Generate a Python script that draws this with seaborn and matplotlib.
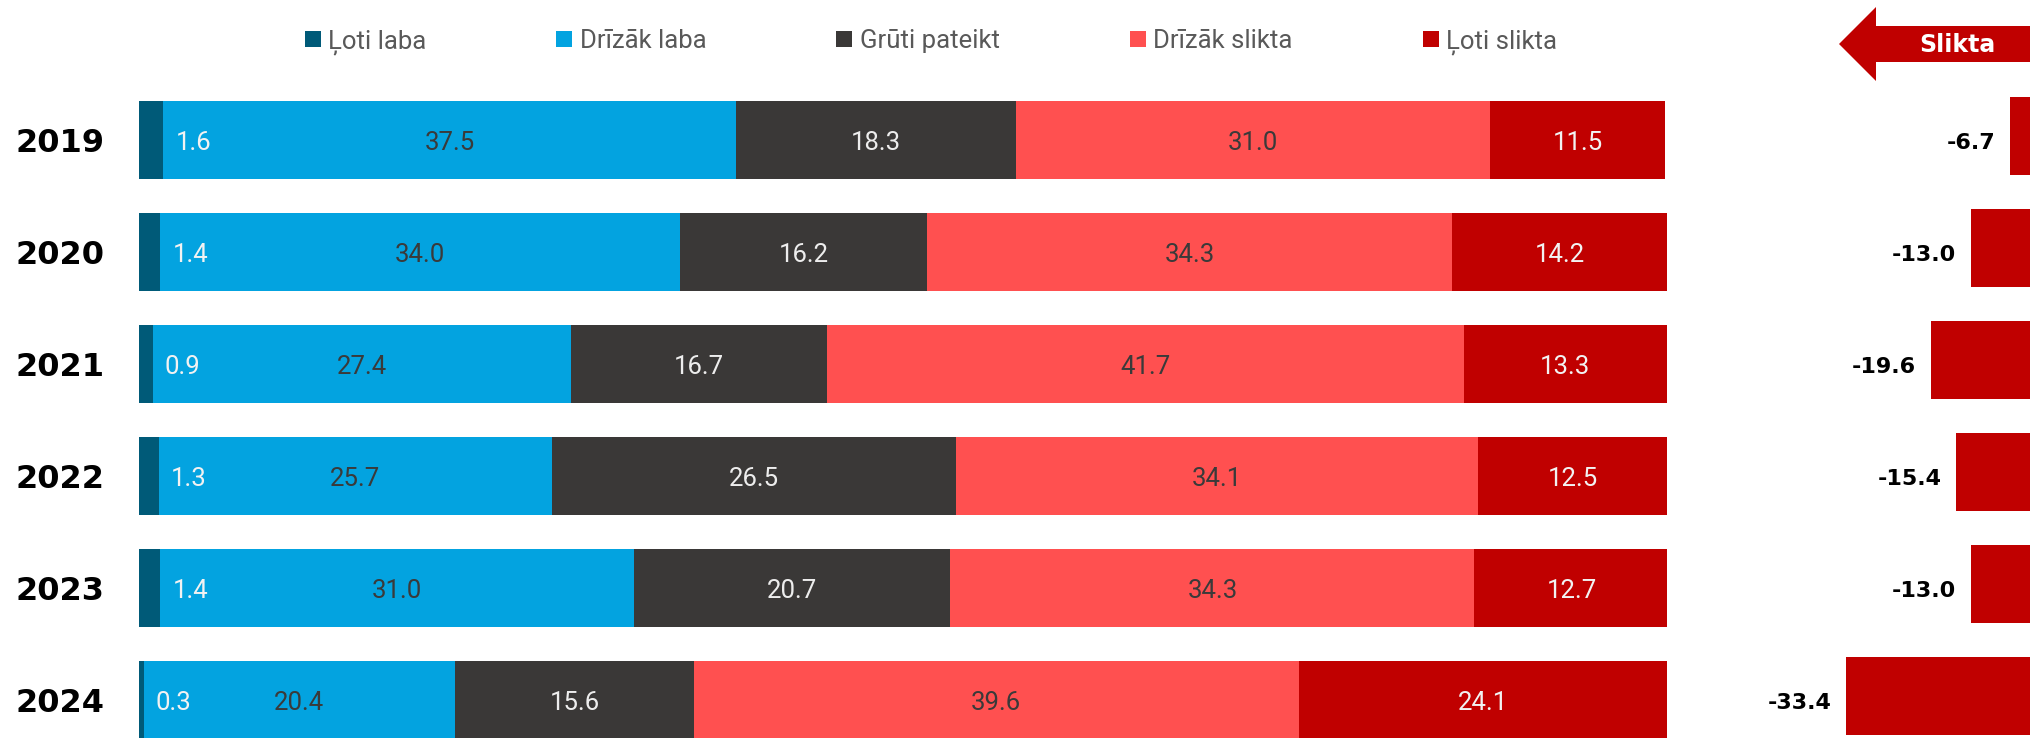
import numpy as np
import pandas as pd
import matplotlib
matplotlib.use('Agg')
import matplotlib.pyplot as plt
import seaborn as sns
from matplotlib.patches import Patch, Polygon

# data
years = ['2019', '2020', '2021', '2022', '2023', '2024']
categories = ['Ļoti laba', 'Drīzāk laba', 'Grūti pateikt', 'Drīzāk slikta', 'Ļoti slikta']
loti_laba = [1.6, 1.4, 0.9, 1.3, 1.4, 0.3]
drizak_laba = [37.5, 34.0, 27.4, 25.7, 31.0, 20.4]
gruti_pateikt = [18.3, 16.2, 16.7, 26.5, 20.7, 15.6]
drizak_slikta = [31.0, 34.3, 41.7, 34.1, 34.3, 39.6]
loti_slikta = [11.5, 14.2, 13.3, 12.5, 12.7, 24.1]
balance = [-6.7, -13.0, -19.6, -15.4, -13.0, -33.4]

colors = ['#005A78', '#03A3E0', '#3A3837', '#FF5050', '#C00000']
label_colors = ['#F2F2F2', '#3A3A3A', '#EDEDED', '#3A3A3A', '#F2F2F2']

sns.set_style('white')
plt.rcParams['font.family'] = ['DejaVu Sans']
thin = ['Roboto', 'DejaVu Sans']

W, H = 2031, 738
fig = plt.figure(figsize=(W / 100, H / 100), dpi=100)

df = pd.DataFrame({'year': years})
series = [loti_laba, drizak_laba, gruti_pateikt, drizak_slikta, loti_slikta]
cum = np.cumsum(np.array(series), axis=0)
for i in range(5):
    df['cum%d' % i] = cum[i]

    # stacked bars
ax = fig.add_axes([139 / W, 0, 1528 / W, 1])
for i in reversed(range(5)):
    sns.barplot(
        data = df, x = 'cum%d' % i, y = 'year',
        orient = 'h', color = colors[i], saturation = 1,
        width = 0.7, linewidth = 0, ax = ax
        )
ax.set_xlim(0, 100)
ax.set_ylim(5 + 38 / 112, -140 / 112)
ax.set_xlabel('')
ax.set_ylabel('')
ax.set_xticks([])
ax.tick_params(axis = 'y', length = 0, pad = 25)
for lab in ax.get_yticklabels():
    lab.set_fontsize(23)
    lab.set_fontweight('bold')
    lab.set_color('black')
sns.despine(ax = ax, left = True, bottom = True)

for j in range(len(years)):
    starts = np.concatenate([[0], cum[:, j][:-1]])
    for i in range(5):
        v = series[i][j]
        if i == 0:
            ax.text(cum[0, j] + 0.8, j + 0.03, '%.1f' % v, ha = 'left', va = 'center',
                    fontsize = 18.5, color = label_colors[0], family = thin)
        else:
            ax.text(starts[i] + v / 2, j + 0.03, '%.1f' % v, ha = 'center', va = 'center',
                    fontsize = 18.5, color = label_colors[i], family = thin)

    # balance bars
ax2 = fig.add_axes([1700 / W, 0, 331 / W, 1])
sns.barplot(
    x = balance, y = years, orient = 'h',
    color = '#C00000', saturation = 1, width = 0.7, linewidth = 0, ax = ax2
    )
ax2.set_xlim(-351 / 6.14, -20 / 6.14)
ax2.set_ylim(5 + 42 / 112, -136 / 112)
ax2.axis('off')
for j, v in enumerate(balance):
    ax2.text(v - 2.4, j + 0.06, '%.1f' % v, ha = 'right', va = 'center',
             fontsize = 16, fontweight = 'bold', color = 'black')

    # arrow
pts = [(1839, 44), (1876, 7), (1876, 26), (2031, 26), (2031, 62), (1876, 62), (1876, 81)]
arrow = Polygon([(x / W, 1 - y / H) for x, y in pts], closed = True,
                facecolor = '#C00000', edgecolor = 'none', transform = fig.transFigure)
fig.patches.append(arrow)
fig.text(1957 / W, 1 - 45 / H, 'Slikta', ha = 'center', va = 'center',
         color = 'white', fontsize = 17, fontweight = 'bold')

    # legend
handles = [Patch(facecolor = c, edgecolor = 'none') for c in colors]
fig.legend(
    handles, categories, loc = 'center', bbox_to_anchor = (931 / W, 1 - 42 / H),
    ncol = 5, frameon = False, prop = {'family': thin, 'size': 18.5},
    labelcolor = '#595959',
    handlelength = 0.62, handleheight = 0.62, handletextpad = 0.3, columnspacing = 5.05
    )

fig.savefig('out.png', dpi = 100)
